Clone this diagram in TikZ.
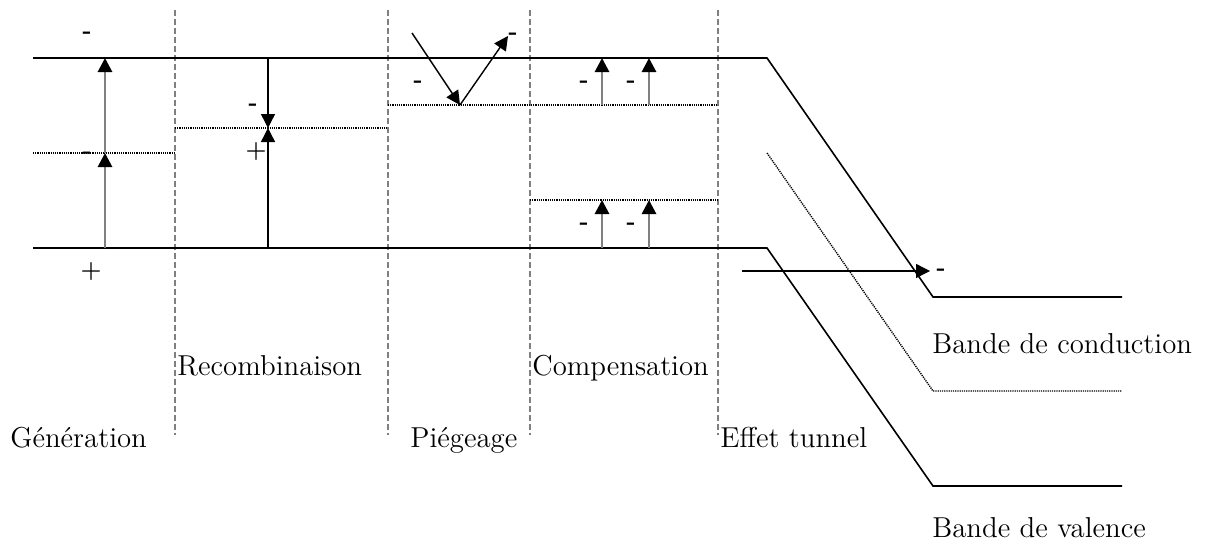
\documentclass[tikz,border=0pt]{standalone}
\usetikzlibrary{arrows.meta}

\begin{document}
\begin{tikzpicture}[x=0.5pt,y=-0.5pt,
        band/.style={line width=0.8pt},
        trap/.style={line width=0.7pt,dash pattern=on 0.6pt off 0.5pt},
        zone/.style={gray,line width=1.2pt,dash pattern=on 3pt off 1.5pt},
        jump/.style={-{Triangle[length=7pt,width=7pt,color=black]},line width=0.7pt},
        grayjump/.style={jump,gray,line width=1.4pt},
        charge/.style={font=\large\bfseries,inner sep=0pt},
        zonename/.style={font=\Large,anchor=base west,inner sep=0pt}]
        \useasboundingbox (0,0) rectangle (1208,546);

        \foreach \x in {175,388,530,718}
          \draw[zone] (\x,10) -- (\x,435);

        \draw[band] (33,58) -- (767,58) -- (933,297) -- (1122,297);
        \draw[band] (33,248) -- (767,248) -- (933,486) -- (1122,486);
        \draw[trap] (767,153) -- (933,391) -- (1122,391);

        \draw[trap] (33,153) -- (175,153);
        \draw[trap] (175,128) -- (388,128);
        \draw[trap] (388,105) -- (718,105);
        \draw[trap] (530,200) -- (718,200);

        % generation
        \coordinate (gv) at (105,248);
        \coordinate (gt) at (105,153);
        \coordinate (gc) at (105,58);
        \draw[grayjump] (gv) to (gt);
        \draw[grayjump] (gt) to (gc);
        \node[charge] (g1) at (87,35) {-};
        \node[charge] (g2) at (87,155) {-};
        \node[charge] (g3) at (91,272) {+};

        % recombinaison
        \coordinate (rc) at (268,58);
        \coordinate (rt) at (268,128);
        \coordinate (rv) at (268,248);
        \draw[jump] (rc) to (rt);
        \draw[jump] (rv) to (rt);
        \node[charge] (r1) at (253,107) {-};
        \node[charge] (r2) at (256,152) {+};

        % piegeage
        \coordinate (pa) at (412,33);
        \coordinate (pt) at (460,105);
        \coordinate (pb) at (508,36);
        \draw[jump] (pa) to (pt);
        \draw[jump] (pt) to (pb);
        \node[charge] (p1) at (418,84) {-};
        \node[charge] (p2) at (513,36) {-};

        % compensation
        \foreach \x/\n in {602/a,649/b}{
          \coordinate (ct\n) at (\x,105);
          \coordinate (cc\n) at (\x,58);
          \coordinate (cl\n) at (\x,200);
          \coordinate (cv\n) at (\x,248);
          \draw[grayjump] (ct\n) to (cc\n);
          \draw[grayjump] (cv\n) to (cl\n);
          \node[charge] (ch\n) at (\x-18,84) {-};
          \node[charge] (cd\n) at (\x-18,226) {-};
        }

        % effet tunnel
        \coordinate (ta) at (742,271);
        \coordinate (tb) at (930,271);
        \draw[jump] (ta) to (tb);
        \node[charge] (t1) at (941,272) {-};

        \node[zonename] (gen) at (10,447) {Génération};
        \node[zonename] (rec) at (177,375) {Recombinaison};
        \node[zonename] (pie) at (410,447) {Piégeage};
        \node[zonename] (com) at (532,375) {Compensation};
        \node[zonename] (eff) at (720,447) {Effet tunnel};
        \node[zonename] (bc) at (932,353) {Bande de conduction};
        \node[zonename] (bv) at (932,537) {Bande de valence};
      \end{tikzpicture}
\end{document}
